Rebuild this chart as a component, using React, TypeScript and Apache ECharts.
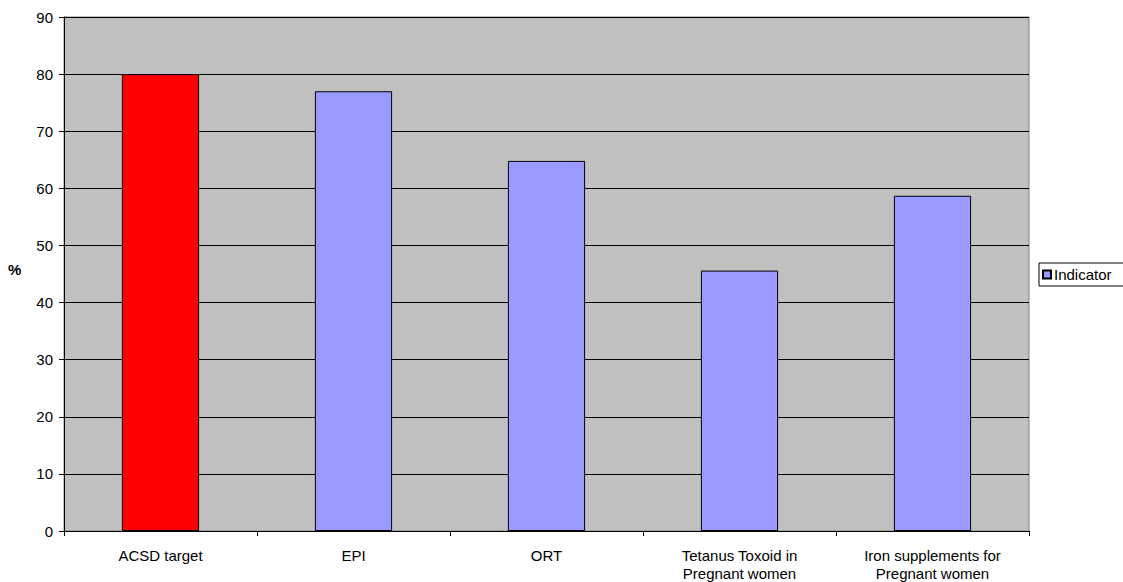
import React, { useEffect, useRef } from "react";
import * as echarts from "echarts";

const categories = [
  "ACSD target",
  "EPI",
  "ORT",
  "Tetanus Toxoid in\nPregnant women",
  "Iron supplements for\nPregnant women",
];
const values = [80, 77, 64.8, 45.6, 58.7];
const barColors = ["#FF0000", "#9999FF", "#9999FF", "#9999FF", "#9999FF"];
const seriesName = "Indicator";
const yAxisTitle = "%";
const yTicks = { min: 0, max: 90, interval: 10 };

export default function App() {
  const ref = useRef<HTMLDivElement>(null);
  useEffect(() => {
    if (!ref.current) return;
    const chart = echarts.init(ref.current, null, { renderer: "svg" });
    const font = "'Liberation Sans', Arial, sans-serif";
    chart.setOption({
      animation: false,
      textStyle: { fontFamily: font },
      grid: {
        left: 64,
        right: 94,
        top: 17,
        bottom: 49,
        show: true,
        backgroundColor: "#C0C0C0",
        borderColor: "#808080",
        borderWidth: 1,
      },
      graphic: [
        {
          type: "text",
          left: 8,
          top: 262,
          style: {
            text: yAxisTitle,
            fontFamily: font,
            fontSize: 15,
            fontWeight: "bold",
            fill: "#000",
          },
        },
      ],
      legend: {
        orient: "vertical",
        left: 1039,
        top: 263,
        padding: [4, 14, 4, 3],
        borderColor: "#000",
        borderWidth: 1,
        itemWidth: 8,
        itemHeight: 8,
        itemGap: 4,
        icon: "rect",
        textStyle: { fontFamily: font, fontSize: 15, color: "#000", padding: [0, 0, 0, -2] },
        data: [seriesName],
      },
      xAxis: {
        type: "category",
        data: categories,
        axisLine: { lineStyle: { color: "#000", width: 1 } },
        axisTick: { show: true, length: 5, lineStyle: { color: "#000" } },
        axisLabel: {
          color: "#000",
          fontSize: 15,
          fontFamily: font,
          margin: 15,
          lineHeight: 18,
          interval: 0,
        },
      },
      yAxis: {
        type: "value",
        min: yTicks.min,
        max: yTicks.max,
        interval: yTicks.interval,
        axisLine: { show: true, lineStyle: { color: "#000", width: 1 } },
        axisTick: { show: true, length: 5, lineStyle: { color: "#000" } },
        axisLabel: { color: "#000", fontSize: 15, fontFamily: font, margin: 11 },
        splitLine: { show: true, lineStyle: { color: "#000", width: 1 } },
      },
      series: [
        {
          name: seriesName,
          type: "bar",
          barWidth: "40%",
          itemStyle: { color: "#9999FF", borderColor: "#000", borderWidth: 1 },
          data: values.map((v, i) => ({
            value: v,
            itemStyle: { color: barColors[i], borderColor: "#000", borderWidth: 1 },
          })),
        },
      ],
    });
    return () => chart.dispose();
  }, []);
  return (
    <div
      ref={ref}
      style={{ position: "fixed", left: 0, top: 0, width: 1123, height: 582, background: "#fff" }}
    />
  );
}
